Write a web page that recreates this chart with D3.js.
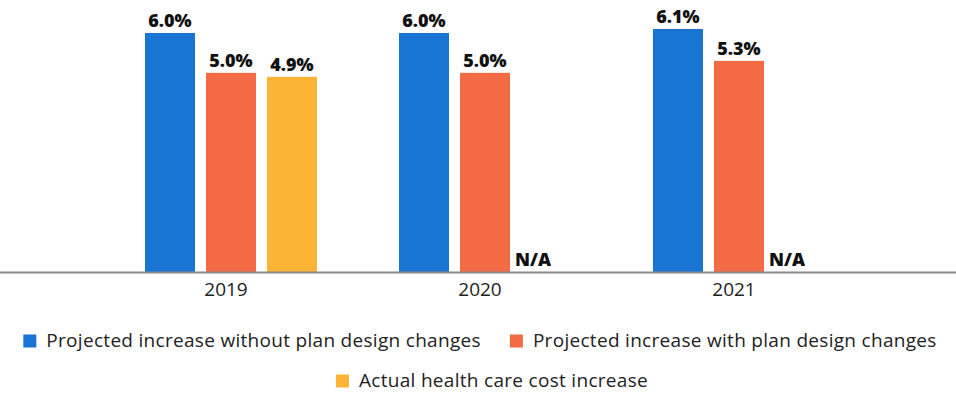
<!DOCTYPE html>
<html>
<head>
<meta charset="utf-8">
<script src="https://cdn.jsdelivr.net/npm/d3@7"></script>
<style>
  html, body { margin: 0; padding: 0; background: #fff; }
  svg { display: block; }
  text { font-family: "Open Sans", Lato, sans-serif; }
</style>
</head>
<body>
<svg id="chart" width="956" height="394"></svg>
<script>
// Plan years on the x axis
const years = ["2019", "2020", "2021"];
// Series names, in legend order
const seriesNames = [
  "Projected increase without plan design changes",
  "Projected increase with plan design changes",
  "Actual health care cost increase"
];
// Percent cost increase per year (null = not available)
const withoutChanges = [6.0, 6.0, 6.1];
const withChanges = [5.0, 5.0, 5.3];
const actualIncrease = [4.9, null, null];
const seriesColors = ["#1a74d3", "#f36b44", "#fbb436"];

const seriesValues = [withoutChanges, withChanges, actualIncrease];

const svg = d3.select("#chart");
const W = 956;
const baseY = 272;

const x0 = d3.scaleBand().domain(years).range([99, 861]).paddingInner(0).paddingOuter(0);
const x1 = d3.scaleBand().domain(d3.range(seriesNames.length))
  .range([-81, 91]).paddingInner(11 / 61).paddingOuter(0);
const y = d3.scaleLinear().domain([0, 6]).range([baseY, 33]);

const rows = [];
years.forEach((yr, i) => {
  seriesValues.forEach((vals, s) => {
    rows.push({ year: yr, s, v: vals[i] });
  });
});

const cx = d => x0(d.year) + x0.bandwidth() / 2 + x1(d.s);

// bars
svg.append("g").selectAll("rect")
  .data(rows.filter(d => d.v != null))
  .join("rect")
  .attr("x", cx)
  .attr("y", d => y(d.v))
  .attr("width", x1.bandwidth())
  .attr("height", d => baseY - y(d.v))
  .attr("fill", d => seriesColors[d.s]);

// value labels
svg.append("g").selectAll("text")
  .data(rows)
  .join("text")
  .attr("x", d => d.v != null ? cx(d) + x1.bandwidth() / 2 : cx(d) - 6)
  .attr("y", d => d.v != null ? y(d.v) - 6 : baseY - 6)
  .attr("text-anchor", d => d.v != null ? "middle" : "start")
  .attr("font-size", 18)
  .attr("font-weight", 800)
  .attr("fill", "#111")
  .text(d => d.v != null ? d.v.toFixed(1) + "%" : "N/A");

// baseline across the full width
svg.append("line")
  .attr("x1", 0).attr("x2", W)
  .attr("y1", baseY + 0.5).attr("y2", baseY + 0.5)
  .attr("stroke", "#8a8a8a").attr("stroke-width", 2);

// year axis
const xAxis = d3.axisBottom(x0).tickSize(0).tickPadding(11);
const axisG = svg.append("g").attr("transform", `translate(0,${baseY})`).call(xAxis);
axisG.select(".domain").remove();
axisG.selectAll("text")
  .attr("font-size", 19)
  .attr("font-family", "'Open Sans', sans-serif")
  .attr("fill", "#222");

// legend: two centered rows
const legendRows = [[0, 1], [2]];
const rowY = [342, 382];
const sq = 13, gapText = 10, gapItem = 29;
legendRows.forEach((items, r) => {
  const g = svg.append("g");
  let xpos = 0;
  items.forEach(s => {
    const it = g.append("g").attr("transform", `translate(${xpos},0)`);
    it.append("rect").attr("x", 0).attr("y", rowY[r] - sq / 2 - 1)
      .attr("width", sq).attr("height", sq).attr("fill", seriesColors[s]);
    const t = it.append("text").attr("x", sq + gapText).attr("y", rowY[r])
      .attr("dominant-baseline", "middle")
      .attr("font-size", 19).attr("letter-spacing", 0.3).attr("fill", "#222")
      .text(seriesNames[s]);
    xpos += sq + gapText + t.node().getComputedTextLength() + gapItem;
  });
  const total = xpos - gapItem;
  g.attr("transform", `translate(${(W - total) / 2 + (r === 0 ? 2 : 14)},0)`);
});
</script>
</body>
</html>
